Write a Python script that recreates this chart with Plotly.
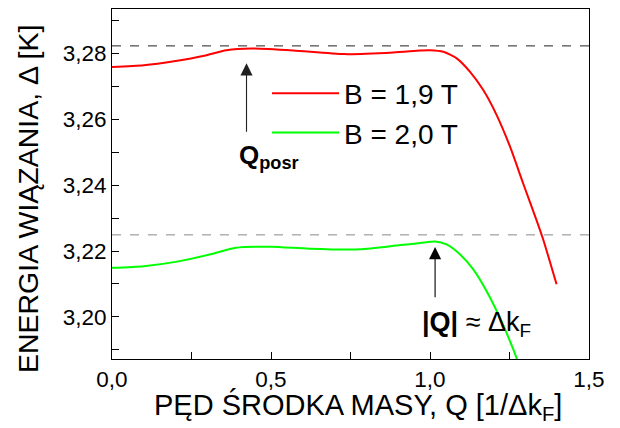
import plotly.graph_objects as go

# Data
q_red = [0.00, 0.10, 0.20, 0.29, 0.36, 0.44, 0.57, 0.73, 0.885, 0.97, 1.00, 1.042, 1.084, 1.126, 1.168, 1.210, 1.252, 1.293, 1.336, 1.356, 1.398]
d_red = [3.2759, 3.2764, 3.2777, 3.2793, 3.2810, 3.2815, 3.2809, 3.2798, 3.2803, 3.2809, 3.2810, 3.2805, 3.2785, 3.2744, 3.2688, 3.2612, 3.2516, 3.2405, 3.2291, 3.2235, 3.2099]

q_green = [0.00, 0.10, 0.20, 0.31, 0.39, 0.50, 0.62, 0.78, 0.906, 0.969, 1.016, 1.052, 1.094, 1.136, 1.178, 1.220, 1.262, 1.30]
d_green = [3.2149, 3.2154, 3.2167, 3.2190, 3.2210, 3.2213, 3.2207, 3.2205, 3.2218, 3.2224, 3.2229, 3.2220, 3.2190, 3.2144, 3.2078, 3.1997, 3.1901, 3.1800]

series_names = ["B = 1,9 T", "B = 2,0 T"]
ref_levels = [3.2823, 3.2249]
ref_colors = ["#222222", "#888888"]

x_tickvals = [0.0, 0.25, 0.5, 0.75, 1.0, 1.25, 1.5]
x_ticktext = ["0,0", "", "0,5", "", "1,0", "", "1,5"]
y_tickvals = [3.19, 3.20, 3.21, 3.22, 3.23, 3.24, 3.25, 3.26, 3.27, 3.28, 3.29]
y_ticktext = ["", "3,20", "", "3,22", "", "3,24", "", "3,26", "", "3,28", ""]

x_range = [0.0, 1.5]
y_range = [3.1872, 3.2935]

x_title = "PĘD ŚRODKA MASY, Q [1/Δk<sub>F</sub>]"
y_title = "ENERGIA WIĄZANIA, Δ [K]"

FONT = "Liberation Sans, Arial, sans-serif"

fig = go.Figure()

for lvl, col in zip(ref_levels, ref_colors):
    fig.add_trace(go.Scatter(x=x_range, y=[lvl, lvl], mode="lines",
                             line=dict(color=col, width=1, dash="dash"),
                             showlegend=False, hoverinfo="skip"))

fig.add_trace(go.Scatter(x=q_red, y=d_red, mode="lines", name=series_names[0],
                         line=dict(color="#ff0000", width=2, shape="spline", smoothing=0.6)))
fig.add_trace(go.Scatter(x=q_green, y=d_green, mode="lines", name=series_names[1],
                         line=dict(color="#00ff00", width=2, shape="spline", smoothing=0.6)))

axis_common = dict(showline=True, linecolor="black", linewidth=1, mirror=True,
                   ticks="inside", ticklen=7, tickcolor="#000000", tickwidth=1,
                   showgrid=False, zeroline=False, tickmode="array",
                   tickfont=dict(family=FONT, size=22.5, color="black"))

fig.update_xaxes(range=x_range, tickvals=x_tickvals, ticktext=x_ticktext, **axis_common)
fig.update_yaxes(range=y_range, tickvals=y_tickvals, ticktext=y_ticktext, ticksuffix=" ",
                 **axis_common)

# axis titles as annotations for exact placement
fig.add_annotation(x=0.516, y=-0.136, xref="paper", yref="paper", xanchor="center", yanchor="middle",
                   text=x_title, showarrow=False, font=dict(family=FONT, size=29, color="black"))
fig.add_annotation(x=-0.176, y=0.457, xref="paper", yref="paper", xanchor="center", yanchor="middle",
                   text=y_title, textangle=-90, showarrow=False,
                   font=dict(family=FONT, size=28.5, color="black"))

# arrows
fig.add_annotation(x=0.423, y=3.2770, ax=0.423, ay=3.2558, xref="x", yref="y", axref="x", ayref="y",
                   text="", showarrow=True, arrowhead=2, arrowsize=2.2, arrowwidth=1.1,
                   arrowcolor="#202020")
fig.add_annotation(x=1.016, y=3.2212, ax=1.016, ay=3.2055, xref="x", yref="y", axref="x", ayref="y",
                   text="", showarrow=True, arrowhead=2, arrowsize=2.2, arrowwidth=1.1,
                   arrowcolor="black")
fig.add_annotation(x=0.392, y=3.2486, xref="x", yref="y", xanchor="left", yanchor="middle",
                   text="<b>Q<sub>posr</sub></b>", showarrow=False,
                   font=dict(family=FONT, size=26, color="black"))
fig.add_annotation(x=0.969, y=3.1978, xref="x", yref="y", xanchor="left", yanchor="middle",
                   text="<b>|Q|</b> ≈ Δk<sub>F</sub>", showarrow=False,
                   font=dict(family=FONT, size=27, color="black"))

fig.update_layout(
    width=620, height=428,
    margin=dict(l=112, r=31, t=9, b=69),
    paper_bgcolor="white", plot_bgcolor="white",
    font=dict(family=FONT, color="black"),
    legend=dict(x=0.325, y=0.83, xanchor="left", yanchor="top",
                bgcolor="rgba(0,0,0,0)", borderwidth=0,
                font=dict(family=FONT, size=28, color="black"),
                itemwidth=67, tracegroupgap=0),
)

fig.write_html("out.html")
